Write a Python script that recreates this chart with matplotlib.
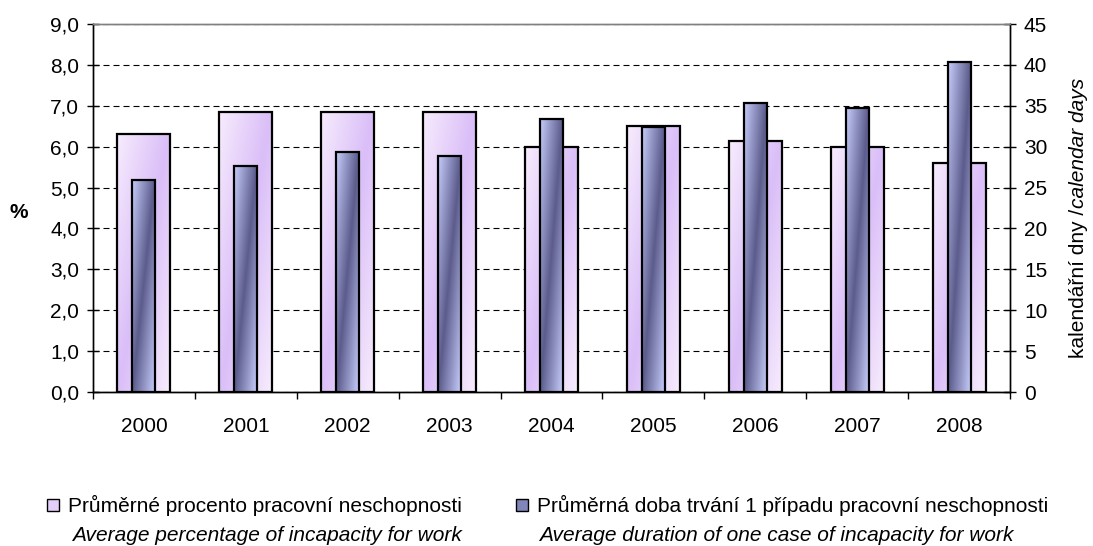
import numpy as np
import matplotlib
matplotlib.use("Agg")
import matplotlib.pyplot as plt
from matplotlib.patches import Rectangle
from matplotlib.ticker import FuncFormatter

plt.rcParams['font.family'] = ['Liberation Sans', 'DejaVu Sans']

years = ['2000', '2001', '2002', '2003', '2004', '2005', '2006', '2007', '2008']
pct = [6.3, 6.85, 6.85, 6.85, 6.0, 6.5, 6.15, 6.0, 5.6]
days = [25.9, 27.6, 29.3, 28.8, 33.4, 32.4, 35.4, 34.7, 40.3]

label_pct_cz = 'Průměrné procento pracovní neschopnosti'
label_pct_en = 'Average percentage of incapacity for work'
label_days_cz = 'Průměrná doba trvání 1 případu pracovní neschopnosti'
label_days_en = 'Average duration of one case of incapacity for work'

W, H = 1093, 546
FS = 15

light_lo = np.array([0xf7, 0xec, 0xfd]) / 255
light_hi = np.array([0xda, 0xbe, 0xf8]) / 255
dark_lo = np.array([0xc6, 0xcc, 0xfa]) / 255
dark_hi = np.array([0x5c, 0x5c, 0x8c]) / 255


def gradient_bars(ax, bars, c_light, c_dark):
    # diagonal gradient: dark along the u == v line, light in the other corners
    u = np.linspace(0, 1, 40)
    v = np.linspace(0, 1, 160)
    U, V = np.meshgrid(u, v)
    t = np.abs(U - V)[..., None]
    img = c_dark + (c_light - c_dark) * t
    for b in bars:
        x0, y0 = b.get_x(), b.get_y()
        im = ax.imshow(img, extent=(x0, x0 + b.get_width(), y0, y0 + b.get_height()),
                       origin='lower', aspect='auto', zorder=b.get_zorder() - 0.5,
                       interpolation='bilinear')
        im.set_clip_path(b)


fig = plt.figure(figsize=(W / 100, H / 100), dpi=100)
ax = fig.add_axes([93 / W, 1 - 392 / H, (1010 - 93) / W, (392 - 24) / H])
ax2 = ax.twinx()

x = np.arange(len(years))
b1 = ax.bar(x, pct, width=0.52, facecolor='none', edgecolor='black', linewidth=1.6, zorder=3)
gradient_bars(ax, b1, light_lo, light_hi)
b2 = ax2.bar(x, days, width=0.225, facecolor='none', edgecolor='black', linewidth=1.6, zorder=3)
gradient_bars(ax2, b2, dark_lo, dark_hi)

ax.set_xlim(-0.5, len(years) - 0.5)
ax.set_ylim(0, 9)
ax2.set_ylim(0, 45)
ax.set_yticks(np.arange(0, 9.01, 1))
ax2.set_yticks(np.arange(0, 46, 5))
ax.yaxis.set_major_formatter(FuncFormatter(lambda v, p: f'{v:.1f}'.replace('.', ',')))

ax.grid(axis='y', color='black', linestyle=(0, (5.4, 3.6)), linewidth=0.8)
ax.set_axisbelow(True)

ax.set_xticks(x)
ax.set_xticklabels(years)
ax.set_xticks(np.arange(-0.5, len(years)), minor=True)
ax.tick_params(axis='x', which='major', length=0, pad=18, labelsize=FS)
ax.tick_params(axis='x', which='minor', length=5, width=1, direction='out')
ax.tick_params(axis='y', direction='inout', length=8, width=1, labelsize=FS, pad=6)
ax2.tick_params(axis='y', direction='inout', length=8, width=1, labelsize=FS, pad=6)

for a in (ax, ax2):
    for s in ('left', 'right', 'bottom'):
        a.spines[s].set_linewidth(1.0)
        a.spines[s].set_color('black')
    a.spines['top'].set_color('#808080')
    a.spines['top'].set_linewidth(1.0)

fig.text(19 / W, 1 - 213 / H, '%', fontsize=FS, fontweight='bold', ha='center', va='center')

# right axis label, normal + italic part
t1 = fig.text(1078 / W, 1 - 358 / H, 'kalendářní dny /', rotation=90, fontsize=FS,
              ha='center', va='bottom')
fig.canvas.draw()
bb = t1.get_window_extent(fig.canvas.get_renderer())
fig.text(1078 / W, (bb.y1 + 1) / H, 'calendar days', rotation=90, fontsize=FS,
         style='italic', ha='center', va='bottom')

# legend
fig.patches.append(Rectangle((47 / W, 1 - 511 / H), 12 / W, 12 / H, transform=fig.transFigure,
                             facecolor='#e4cffa', edgecolor='black', linewidth=1))
fig.patches.append(Rectangle((516 / W, 1 - 511 / H), 12 / W, 12 / H, transform=fig.transFigure,
                             facecolor='#8086b8', edgecolor='black', linewidth=1))
fig.text(68 / W, 1 - 512 / H, label_pct_cz, fontsize=FS, va='baseline')
fig.text(72 / W, 1 - 541 / H, label_pct_en, fontsize=FS, style='italic', va='baseline')
fig.text(537 / W, 1 - 512 / H, label_days_cz, fontsize=FS, va='baseline')
fig.text(539 / W, 1 - 541 / H, label_days_en, fontsize=FS, style='italic', va='baseline')

fig.savefig('out.png', dpi=100)
